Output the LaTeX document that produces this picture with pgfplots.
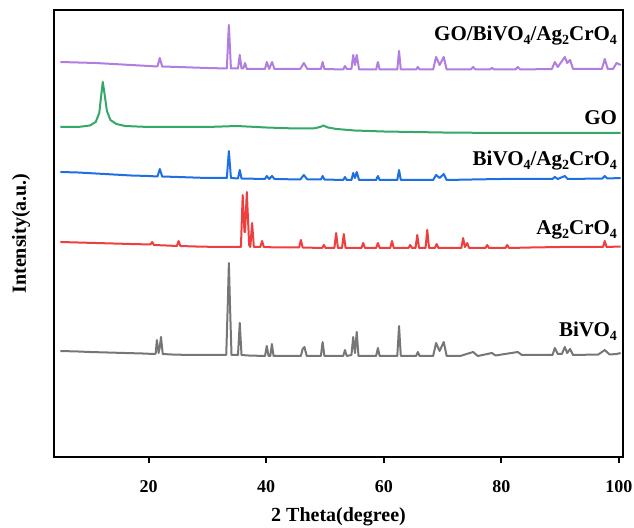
\documentclass[border=0pt]{standalone}
\usepackage{pgfplots}
\pgfplotsset{compat=1.18}
\usepackage{fontspec}
\setmainfont{Liberation Serif}
\definecolor{cgray}{RGB}{118,118,118}
\definecolor{cred}{RGB}{238,62,62}
\definecolor{cblue}{RGB}{30,110,228}
\definecolor{cgreen}{RGB}{52,168,104}
\definecolor{cpurple}{RGB}{176,125,224}
\newcommand{\sub}[1]{\raisebox{-0.35ex}{\fontsize{14}{14}\selectfont #1}}
\begin{document}
\begin{tikzpicture}
\useasboundingbox (-54pt,-70pt) rectangle (580pt,457pt);
\begin{axis}[
  scale only axis, width=569pt, height=447pt,
  xmin=3.9, xmax=100.7, ymin=0, ymax=447,
  axis line style={line width=2.2pt},
  xtick={20,40,60,80,100}, ytick=\empty,
  xtick pos=bottom, tick align=outside,
  major tick length=6pt,
  every tick/.style={line width=2.2pt, black},
  /pgf/number format/assume math mode=true,
  xticklabel style={font=\fontsize{18}{20}\selectfont\bfseries, anchor=center, yshift=-24pt},
  xlabel={2 Theta(degree)}, ylabel={Intensity(a.u.)},
  label style={font=\fontsize{20}{24}\selectfont\bfseries},
  xlabel style={at={(axis description cs:0.5,-0.133)}, anchor=center},
  ylabel style={at={(axis description cs:-0.058,0.5)}, anchor=center, rotate=0},
  clip=false,
  every axis plot/.append style={line width=2pt, line join=round},
]
% BiVO4
\addplot[cgray] coordinates {(5,106) (8,105.5) (10,105) (13,104.5) (16,104) (19,103.5) (21,103) (21.2,103.5) (21.4,117) (21.7,104) (21.9,110) (22.1,120) (22.4,103) (24,102.5) (27,102) (30,102) (32,102) (33.2,102) (33.45,150) (33.65,194) (33.85,150) (34.1,102) (35.2,102) (35.5,134) (35.8,102) (37,101.5) (39.8,101) (40.1,111) (40.4,101) (40.7,101) (40.97,113) (41.25,101) (43,101) (45.9,101) (46.2,108) (46.5,110) (46.9,101) (49.3,101) (49.6,115) (49.9,101) (52,101) (53.1,101) (53.4,107) (53.7,101) (54.5,102) (54.8,120) (55.1,104) (55.4,125) (55.7,101) (58.7,101) (59.0,109) (59.3,101) (62.3,101) (62.6,131) (62.9,101) (65.5,101) (65.8,105) (66.1,101) (68.4,101) (68.9,114) (69.5,106) (70.2,115) (70.7,101) (73,101) (75.2,105) (76,101) (78.4,104) (79,101.5) (82.8,105) (83.5,102) (88.7,102) (89.1,109) (89.6,103) (90.3,103) (90.8,110) (91.2,104) (91.7,108) (92.2,102) (96.5,102.5) (97.6,107) (98.4,102.5) (99.6,103) (100.3,104)};
% Ag2CrO4
\addplot[cred] coordinates {(5,215) (8,214.5) (11,214) (14,213.5) (17,213) (20.3,212.5) (20.6,215) (20.9,212) (23,211.5) (24.8,211) (25.1,216) (25.4,211) (28,210.5) (32,210) (35.7,210) (36.0,262) (36.3,225) (36.4,225) (36.7,265) (37.1,212) (37.3,210) (37.6,234) (37.9,210) (39.0,210) (39.3,216) (39.6,210) (42,209.5) (45.6,209.5) (45.9,217) (46.2,209.5) (49.5,209) (49.8,212) (50.1,209) (51.6,209) (51.9,224) (52.2,209) (52.9,209) (53.2,223) (53.5,209) (56.2,209) (56.5,214) (56.8,209) (58.7,209) (59,214) (59.3,209) (61.1,209) (61.4,216) (61.7,209) (64.2,209) (64.5,212) (64.8,209) (65.4,209) (65.7,222) (66.0,209) (67.1,209) (67.4,227) (67.7,209) (68.7,209) (69,213) (69.3,209) (73.2,209) (73.5,219) (73.8,210) (74.2,214) (74.5,209) (77.3,209) (77.6,212) (77.9,209) (80.7,209) (81,212) (81.3,209) (85,209.5) (90,210) (95,210) (97.3,210) (97.6,216) (97.9,210) (100.3,210.5)};
% BiVO4/Ag2CrO4
\addplot[cblue] coordinates {(5,285) (8,284.5) (11,283.5) (14,282.5) (17,281.5) (20,281) (21.5,280.5) (21.9,288) (22.3,280.5) (25,280) (30,279) (33.3,279) (33.65,306) (34.0,279) (35.2,278.5) (35.5,287) (35.8,278.5) (39.8,278) (40.1,281) (40.5,278) (41.0,281) (41.4,278) (45.8,277.5) (46.4,282) (47,277.5) (49.3,277.5) (49.6,281) (49.9,277.5) (53.1,277) (53.4,280) (53.7,277) (54.5,277) (54.8,284) (55.1,279) (55.4,285) (55.8,277) (58.7,277) (59,281) (59.3,277) (62.3,277) (62.6,287) (62.9,277) (68.4,277) (68.9,282) (69.5,279) (70.2,283) (70.7,277) (75,277.5) (80,278) (88.7,278) (89.1,280) (89.6,278) (90.8,281) (91.3,278) (97.2,278.5) (97.6,281) (98,278.5) (100.3,279)};
% GO
\addplot[cgreen] coordinates {(5,330) (8,330) (10,331.5) (11,335) (11.6,344) (11.9,360) (12.2,375) (12.5,363) (12.9,346) (13.5,337) (14.5,333) (16,331) (20,330) (25,330) (30,330) (35,331) (40,329.5) (45,328.5) (48,328.5) (49.2,330) (49.7,331.5) (50.5,329.5) (52,328) (55,326.5) (60,325.5) (70,324.5) (80,324) (90,324) (100.3,324)};
% GO/BiVO4/Ag2CrO4
\addplot[cpurple] coordinates {(5,395) (8,394.5) (11,394) (14,393) (17,392) (20,391) (21.5,390.5) (21.9,399) (22.3,390.5) (25,390) (30,389) (33.3,388.5) (33.65,432) (34.0,388.5) (35.2,388.5) (35.5,402) (35.8,388.5) (36.1,388.5) (36.4,394) (36.7,388) (39.8,388) (40.1,395) (40.5,388) (41.0,395) (41.4,388) (45.8,388) (46.4,394) (47,388) (49.3,388) (49.6,395) (49.9,388) (53.1,387.5) (53.4,391) (53.7,388) (54.5,388) (54.8,402) (55.1,392) (55.4,402) (55.8,387.5) (58.7,387.5) (59,395) (59.3,387.5) (62.3,387.5) (62.6,406) (62.9,387.5) (65.5,387.5) (65.8,390) (66.1,387.5) (68.4,387.5) (68.9,400) (69.5,392) (70.2,400) (70.7,387.5) (74.8,387.5) (75.2,390) (75.6,387.5) (78,387.5) (78.4,389) (78.8,387.5) (82.4,387.5) (82.8,390) (83.2,387.5) (88.6,388) (89.1,395) (89.6,390) (90.8,400) (91.2,394) (91.7,397) (92.2,388) (97.1,388) (97.6,398) (98.1,388) (99,388) (99.6,394) (100.3,392)};
\begin{scope}[every node/.style={anchor=base east, inner sep=0pt, font=\fontsize{21}{24}\selectfont\bfseries}]
\node at (axis cs:99.7,416) {GO/BiVO\sub{4}/Ag\sub{2}CrO\sub{4}};
\node at (axis cs:99.7,332) {GO};
\node at (axis cs:99.7,291) {BiVO\sub{4}/Ag\sub{2}CrO\sub{4}};
\node at (axis cs:99.7,222) {Ag\sub{2}CrO\sub{4}};
\node at (axis cs:99.7,120) {BiVO\sub{4}};
\end{scope}
\end{axis}
\end{tikzpicture}
\end{document}
